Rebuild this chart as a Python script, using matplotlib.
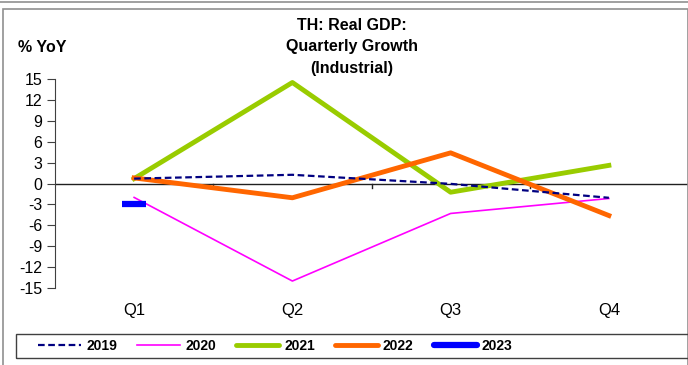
import matplotlib.pyplot as plt
from matplotlib.lines import Line2D
from matplotlib.patches import Rectangle

plt.rcParams['font.family'] = ['Liberation Sans', 'DejaVu Sans']

quarters = ['Q1', 'Q2', 'Q3', 'Q4']
y2019 = [0.7, 1.25, -0.05, -2.05]
y2020 = [-2.0, -14.0, -4.3, -2.15]
y2021 = [0.7, 14.5, -1.25, 2.6]
y2022 = [0.8, -2.05, 4.4, -4.6]
y2023 = [-3.0]
yticks = [15, 12, 9, 6, 3, 0, -3, -6, -9, -12, -15]

fig = plt.figure(figsize=(6.88, 3.65), dpi=100)
ax = fig.add_axes([55/688, 77/365, 633/688, 209/365])

x = range(len(quarters))
ax.plot(x, y2019, color='#000080', lw=1.6, dashes=(3, 1.6), zorder=5)
ax.plot(x, y2020, color='#FF00FF', lw=1.2, zorder=3)
ax.plot(x, y2021, color='#99CC00', lw=3.5, zorder=4)
ax.plot(x, y2022, color='#FF6600', lw=3.5, zorder=4)
ax.plot(range(len(y2023)), y2023, ls='none', marker='_', ms=17, mew=4.5,
        color='#0000FF', zorder=6)

ax.set_xlim(-0.5, 3.5)
ax.set_ylim(-15, 15)
ax.set_yticks(yticks)
ax.set_yticklabels([str(v) for v in yticks], fontsize=11.5)
ax.tick_params(axis='y', direction='out', length=6, color='#404040', pad=3)

# x axis drawn at zero, labels at bottom
ax.axhline(0, color='#202020', lw=1, zorder=2)
ax.set_xticks([])
for i, q in enumerate(quarters):
    ax.text(i, -17.2, q, ha='center', va='top', fontsize=12)
for b in [0.5, 1.5, 2.5]:
    ax.plot([b, b], [0, -0.7], color='#202020', lw=1, zorder=2)

for s in ['top', 'right', 'bottom']:
    ax.spines[s].set_visible(False)
ax.spines['left'].set_color('#404040')

fig.text(352/688, 1 - 47/365, 'TH: Real GDP:\nQuarterly Growth\n(Industrial)',
         ha='center', va='center', fontsize=11.5, fontweight='bold', linespacing=1.5)
fig.text(18/688, 1 - 47/365, '% YoY', ha='left', va='center',
         fontsize=11.5, fontweight='bold')

# outer frame
fig.patches.append(Rectangle((3/688, -0.01), 0.995, 1 - 9/365 + 0.01,
                             transform=fig.transFigure, fill=False,
                             edgecolor='#909090', lw=1.2))
fig.add_artist(Line2D([0, 1], [1 - 1.5/365, 1 - 1.5/365], color='#909090',
                      lw=1.2, transform=fig.transFigure))
# legend frame
fig.patches.append(Rectangle((16/688, 1 - 358/365), 680/688, 24/365,
                             transform=fig.transFigure, fill=False,
                             edgecolor='#404040', lw=1))

handles = [
    Line2D([], [], color='#000080', lw=1.6, dashes=(3, 1.6)),
    Line2D([], [], color='#FF00FF', lw=1.2),
    Line2D([], [], color='#99CC00', lw=3.5, solid_capstyle='round'),
    Line2D([], [], color='#FF6600', lw=3.5, solid_capstyle='round'),
    Line2D([], [], color='#0000FF', lw=4.5, solid_capstyle='round'),
]
leg = fig.legend(handles, ['2019', '2020', '2021', '2022', '2023'],
                 loc='center left', bbox_to_anchor=(28/688, 1 - 346/365), ncol=5,
                 frameon=False, handlelength=3.1, handletextpad=0.35,
                 columnspacing=1.45, borderpad=0.25,
                 prop={'weight': 'bold', 'size': 10})

fig.savefig('out.png', dpi=100)
